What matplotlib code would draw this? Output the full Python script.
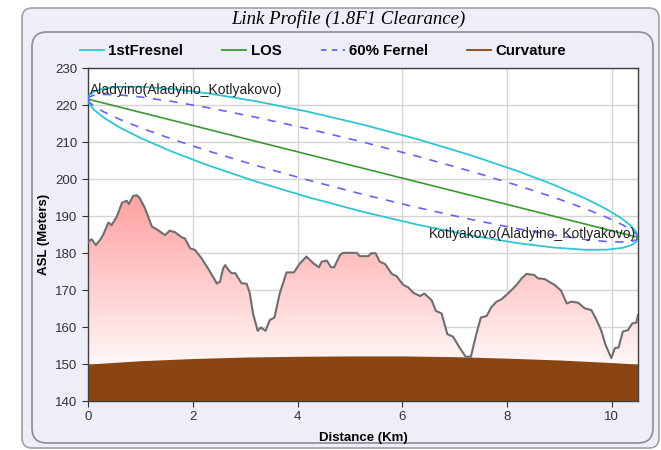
import matplotlib
matplotlib.use("Agg")
import matplotlib.pyplot as plt
import numpy as np
from matplotlib.patches import FancyBboxPatch, Polygon
from matplotlib.colors import LinearSegmentedColormap
from matplotlib.lines import Line2D

plt.rcParams["font.family"] = ["Liberation Sans", "DejaVu Sans"]

# terrain profile (km, m ASL)
terrain_km = [0.00, 0.07, 0.15, 0.23, 0.29, 0.39, 0.45, 0.55, 0.65, 0.74, 0.78, 0.86,
              0.93, 0.99, 1.09, 1.22, 1.31, 1.47, 1.56, 1.66, 1.79, 1.85, 1.95, 2.04,
              2.17, 2.33, 2.46, 2.52, 2.58, 2.62, 2.68, 2.74, 2.81, 2.93, 3.03, 3.09,
              3.15, 3.24, 3.30, 3.39, 3.47, 3.56, 3.66, 3.79, 3.93, 4.05, 4.17, 4.30,
              4.41, 4.46, 4.56, 4.64, 4.70, 4.81, 4.87, 5.13, 5.19, 5.35, 5.41, 5.49,
              5.57, 5.67, 5.80, 5.89, 6.02, 6.11, 6.21, 6.34, 6.42, 6.56, 6.64, 6.75,
              6.86, 6.97, 7.10, 7.21, 7.31, 7.40, 7.50, 7.61, 7.70, 7.80, 7.89, 8.02,
              8.18, 8.28, 8.37, 8.52, 8.59, 8.72, 8.91, 9.03, 9.14, 9.23, 9.36, 9.48,
              9.61, 9.71, 9.80, 9.88, 9.99, 10.06, 10.13, 10.21, 10.31, 10.39, 10.47, 10.50]
terrain_asl = [183.0, 183.8, 182.2, 183.6, 185.0, 188.3, 187.6, 189.9, 193.7, 194.2, 193.3, 195.5,
               195.7, 194.9, 192.1, 187.2, 186.5, 184.9, 186.1, 185.7, 184.3, 184.0, 181.3, 180.9,
               178.6, 175.0, 171.8, 172.3, 175.9, 176.8, 175.5, 174.6, 174.6, 171.9, 171.7, 169.1,
               163.7, 159.0, 159.9, 159.0, 161.9, 162.6, 169.1, 174.8, 174.8, 177.3, 179.1, 177.3,
               176.2, 177.7, 178.0, 176.2, 176.2, 179.5, 180.1, 180.1, 179.2, 179.2, 180.0, 180.0,
               177.7, 177.1, 174.4, 173.8, 171.4, 170.8, 169.3, 168.4, 169.1, 167.3, 164.4, 163.7,
               158.1, 157.4, 154.3, 152.0, 152.0, 157.4, 162.6, 163.0, 165.4, 166.9, 167.5, 169.1,
               171.4, 173.2, 174.4, 174.1, 173.2, 173.0, 171.4, 169.9, 166.4, 166.9, 166.6, 165.1,
               164.6, 161.9, 159.0, 155.2, 151.6, 154.3, 154.5, 158.8, 159.2, 161.0, 161.2, 163.3]

# earth curvature
curv_km = [0, 1, 2, 3, 4, 5, 6, 7, 8, 9, 10, 10.5]
curv_asl = [150.0, 150.9, 151.5, 151.9, 152.1, 152.2, 152.2, 152.0, 151.6, 151.1, 150.4, 150.0]

# line of sight end points
los_km = [0.0, 10.5]
los_asl = [221.7, 184.3]

# fresnel zone outlines
fz_km = [0, 0.03, 0.12, 0.3, 0.6, 1.0, 1.6, 2.3, 3.2, 4.2, 5.25, 6.3, 7.3, 8.2, 8.9,
         9.5, 9.9, 10.2, 10.38, 10.47, 10.5]
fresnel_up = [221.7, 222.85, 223.78, 224.56, 225.04, 225.07, 224.48, 223.27, 221.16, 218.30, 214.8,
              210.82, 206.56, 202.25, 198.48, 194.79, 191.92, 189.30, 187.24, 185.67, 184.3]
fresnel_lo = [221.7, 220.33, 218.76, 216.70, 214.08, 211.21, 207.52, 203.75, 199.44, 195.18, 191.2,
              187.70, 184.84, 182.73, 181.52, 180.93, 180.96, 181.44, 182.22, 183.15, 184.3]
fernel60_up = [221.7, 222.35, 222.78, 222.99, 222.85, 222.30, 221.09, 219.37, 216.82, 213.68, 210.08,
               206.20, 202.22, 198.35, 195.09, 192.02, 189.73, 187.72, 186.24, 185.17, 184.3]
fernel60_lo = [221.7, 220.83, 219.76, 218.27, 216.27, 213.98, 210.91, 207.65, 203.78, 199.80, 195.92,
               192.32, 189.18, 186.63, 184.91, 183.70, 183.15, 183.02, 183.22, 183.65, 184.3]

site_a = "Aladyino(Aladyino_Kotlyakovo)"
site_b = "Kotlyakovo(Aladyino_Kotlyakovo)"

W, H = 661, 450
fig = plt.figure(figsize=(W / 100, H / 100), dpi=100)
fig.patch.set_facecolor("white")


def box(x0, y0, x1, y1, r, fc, ec):
    # pixel box (top-left origin) -> inches
    p = FancyBboxPatch((x0 / 100, (H - y1) / 100), (x1 - x0) / 100, (y1 - y0) / 100,
                       boxstyle=f"round,pad=0,rounding_size={r}", transform=fig.dpi_scale_trans,
                       fc=fc, ec=ec, lw=1.2, zorder=-10)
    fig.patches.append(p)


box(22, 8, 659, 448, 0.10, "#EEEEF9", "#A0A0A8")
box(32, 32, 653, 443, 0.15, "#EEEEF9", "#8C8C94")

ax = fig.add_axes([88 / W, 1 - 401 / H, (638 - 88) / W, (401 - 68.5) / H])
ax.set_facecolor("white")
ax.set_xlim(0, 10.5)
ax.set_ylim(140, 230)
ax.set_xticks([0, 2, 4, 6, 8, 10])
ax.set_yticks(np.arange(140, 231, 10))
ax.grid(color="#D4D4D4", lw=1.0)
ax.set_axisbelow(True)
ax.tick_params(labelsize=9.5, labelcolor="#333333", length=4, color="#333333", width=0.8)
for s in ax.spines.values():
    s.set_color("#404040")
    s.set_linewidth(1.0)

# terrain with vertical pink gradient
tk = np.array(terrain_km)
ta = np.array(terrain_asl)
poly = Polygon(np.column_stack([np.r_[tk, tk[-1], tk[0]], np.r_[ta, 140, 140]]),
               closed=True, fc="none", ec="none")
ax.add_patch(poly)
cmap = LinearSegmentedColormap.from_list("pink", ["#FFF6F6", "#FF9C9C"])
grad = np.linspace(0, 1, 256).reshape(-1, 1)
im = ax.imshow(grad, extent=[0, 10.5, 150, 198], origin="lower", aspect="auto",
               cmap=cmap, zorder=1.5)
im.set_clip_path(poly)
ax.plot(terrain_km, terrain_asl, color="#6E6E6E", lw=1.5, zorder=3)

ax.fill_between(curv_km, 140, curv_asl, color="#8B4513", lw=0, zorder=2)

cyan = "#2EC6D3"
ax.plot(fz_km, fresnel_up, color=cyan, lw=1.3, zorder=4)
ax.plot(fz_km, fresnel_lo, color=cyan, lw=1.3, zorder=4)
ax.plot(los_km, los_asl, color="#3A9A2E", lw=1.2, zorder=4)
ax.plot(fz_km, fernel60_up, color="#6464F5", lw=1.2, ls=(0, (5, 5)), zorder=4)
ax.plot(fz_km, fernel60_lo, color="#6464F5", lw=1.2, ls=(0, (5, 5)), zorder=4)

ax.text(0.03, 222.3, site_a, fontsize=10, color="#222222", va="bottom", ha="left", zorder=5)
ax.text(10.47, 183.3, site_b, fontsize=10, color="#222222", va="bottom", ha="right", zorder=5)

ax.set_xlabel("Distance (Km)", fontsize=9.5, fontweight="bold", labelpad=6)
ax.set_ylabel("ASL (Meters)", fontsize=9.5, fontweight="bold", labelpad=4)

fig.text(348 / W, 1 - 19 / H, "Link Profile (1.8F1 Clearance)", ha="center", va="center",
         fontsize=13.5, style="italic", family=["Liberation Serif", "DejaVu Serif"])

handles = [Line2D([], [], color=cyan, lw=1.3),
           Line2D([], [], color="#3A9A2E", lw=1.3),
           Line2D([], [], color="#6464F5", lw=1.3, ls=(0, (3, 3))),
           Line2D([], [], color="#8B4513", lw=1.3)]
fig.legend(handles, ["1stFresnel", "LOS", "60% Fernel", "Curvature"], loc="center",
           bbox_to_anchor=(323 / W, 1 - 51 / H), ncol=4, frameon=False,
           prop={"weight": "bold", "size": 10.8}, handlelength=1.6, handletextpad=0.3,
           columnspacing=2.6)

fig.savefig("out.png", dpi=100)
